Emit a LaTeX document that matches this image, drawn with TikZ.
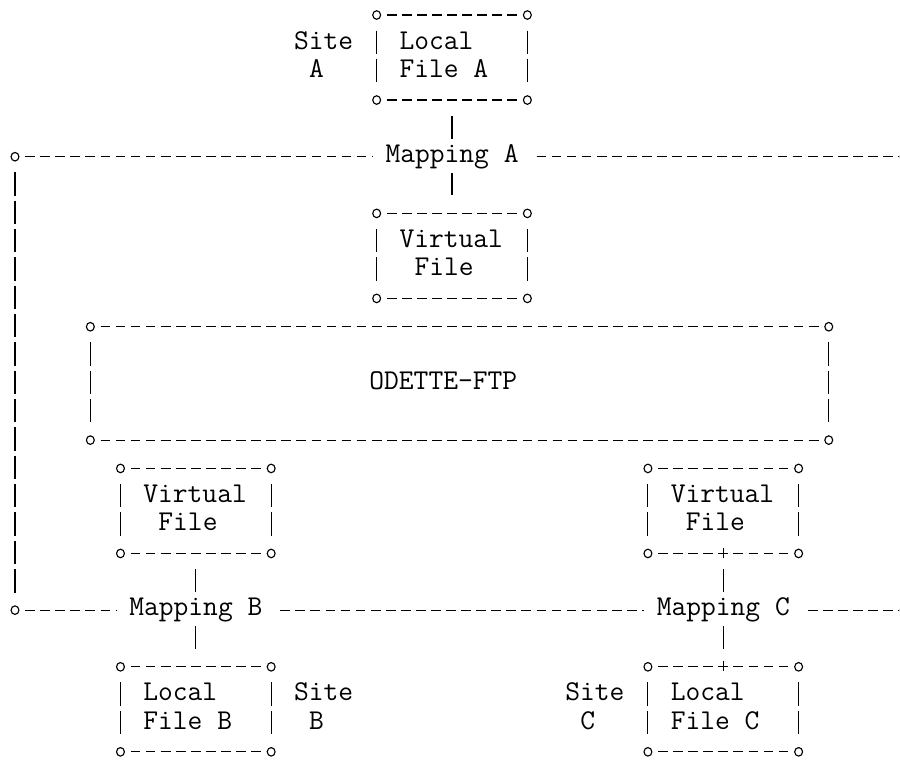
\documentclass[tikz,border=0pt]{standalone}
\usepackage{fontspec}
\usetikzlibrary{fit}
\tikzset{
  art/.style={line width=0.85pt, draw=black},
  hdash/.style={art, dash pattern=on 7.3pt off 4pt, dash phase=7.3pt},
  vbars/.style={art, dash pattern=on 17.55pt off 3.7pt, shorten <=11.73pt, shorten >=13.22pt},
  cshort/.style={shorten <=3.65pt, shorten >=3.65pt},
  corner/.style={art, fill=white},
  lbl/.style={font=\ttfamily\fontsize{21.52pt}{21.25pt}\selectfont, inner sep=0pt, anchor=base west},
  maplbl/.style={font=\ttfamily\fontsize{21.52pt}{21.25pt}\selectfont, inner sep=0pt, anchor=base, text height=17.47pt, text depth=7.48pt},
}
\newcommand\abox[5]{%
  \coordinate (#1-nw) at (#2,#3);
  \coordinate (#1-ne) at (#4,#3);
  \coordinate (#1-sw) at (#2,#5);
  \coordinate (#1-se) at (#4,#5);
  \node[fit=(#1-nw)(#1-se), inner sep=0pt] (#1) {};
  \draw[hdash, cshort] (#1-nw) -- (#1-ne);
  \draw[hdash, cshort] (#1-sw) -- (#1-se);
  \draw[vbars] (#1-nw) -- (#1-sw);
  \draw[vbars] (#1-ne) -- (#1-se);
  \foreach \k in {nw,ne,sw,se}{\draw[corner] (#1-\k) ellipse[x radius=2.95pt, y radius=3.2pt];}
}
\newcommand\asciitxt[4]{\node[lbl] (#1) at ({#2-0.5},{#3+0.2}) {#4};}
\begin{document}
\begin{tikzpicture}[x=11.3pt, y=-21.25pt]
\useasboundingbox (-0.995,-0.5295) rectangle (58.727,26.333);

% boxes
\abox{lfA}{24}{0}{34}{3}
\abox{vfA}{24}{7}{34}{10}
\abox{oftp}{5}{11}{54}{15}
\abox{vfB}{7}{16}{17}{19}
\abox{vfC}{42}{16}{52}{19}
\abox{lfB}{7}{23}{17}{26}
\abox{lfC}{42}{23}{52}{26}

% texts
\asciitxt{siteA1}{19}{1}{Site}
\asciitxt{siteA2}{20}{2}{A}
\asciitxt{lfA1}{26}{1}{Local}
\asciitxt{lfA2}{26}{2}{File A}
\asciitxt{vfA1}{26}{8}{Virtual}
\asciitxt{vfA2}{27}{9}{File}
\asciitxt{odette}{24}{13}{ODETTE-FTP}
\asciitxt{vfB1}{9}{17}{Virtual}
\asciitxt{vfB2}{10}{18}{File}
\asciitxt{vfC1}{44}{17}{Virtual}
\asciitxt{vfC2}{45}{18}{File}
\asciitxt{lfB1}{9}{24}{Local}
\asciitxt{lfB2}{9}{25}{File B}
\asciitxt{siteB1}{19}{24}{Site}
\asciitxt{siteB2}{20}{25}{B}
\asciitxt{siteC1}{37}{24}{Site}
\asciitxt{siteC2}{38}{25}{C}
\asciitxt{lfC1}{44}{24}{Local}
\asciitxt{lfC2}{44}{25}{File C}

% mapping labels
\node[maplbl] (mapA) at (29,5.2) {Mapping A};
\node[maplbl] (mapB) at (12,21.2) {Mapping B};
\node[maplbl] (mapC) at (47,21.2) {Mapping C};

% line ends
\coordinate (ca) at (0,5);
\coordinate (cb) at (59,5);
\coordinate (cc) at (0,21);
\coordinate (cd) at (59,21);

% mapping lines
\draw[hdash, shorten <=3.65pt, shorten >=9.3pt] (ca) -- (ca -| mapA.west);
\draw[hdash, shorten <=9.3pt, shorten >=3.65pt] (mapA.east |- cb) -- (cb);
\draw[hdash, shorten <=3.65pt, shorten >=9.3pt] (cc) -- (cc -| mapB.west);
\draw[hdash, shorten <=9.3pt, shorten >=9.3pt] (mapB.east |- cc) -- (cc -| mapC.west);
\draw[hdash, shorten <=9.3pt, shorten >=3.65pt] (mapC.east |- cd) -- (cd);
\draw[vbars] (ca) -- (cc);

% connectors
\draw[art, shorten <=11.73pt] (lfA.south) -- (mapA.north);
\draw[art, shorten >=13.22pt] (mapA.south) -- (vfA.north);
\draw[art, shorten <=11.73pt] (vfB.south) -- (mapB.north);
\draw[art, shorten >=13.22pt] (mapB.south) -- (lfB.north);
\draw[art, shorten <=11.73pt] (vfC.south) -- (mapC.north);
\draw[art, shorten >=13.22pt] (mapC.south) -- (lfC.north);

% plus marks
\draw[art] ([yshift=4.5pt]vfC.south) -- ([yshift=-3.4pt]vfC.south);
\draw[art] ([yshift=4.5pt]lfC.north) -- ([yshift=-3.4pt]lfC.north);

% end circles
\foreach \p in {ca,cb,cc,cd}{\draw[corner] (\p) ellipse[x radius=2.95pt, y radius=3.2pt];}
\end{tikzpicture}
\end{document}
